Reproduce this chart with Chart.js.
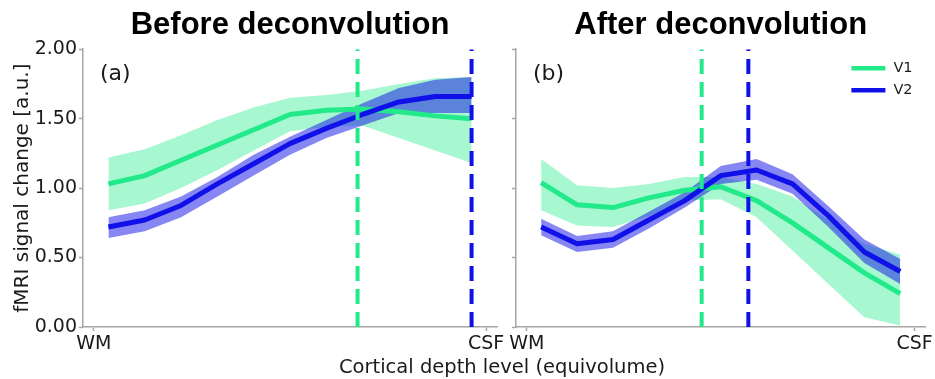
<!DOCTYPE html>
<html>
<head>
<meta charset="utf-8">
<script src="https://cdn.jsdelivr.net/npm/chart.js@4/dist/chart.umd.min.js"></script>
<style>
html,body{margin:0;padding:0;background:#fff;width:935px;height:379px;overflow:hidden;}
#wrap{position:relative;width:935px;height:379px;}
#ca{position:absolute;left:0;top:0;}
#cb{position:absolute;left:500px;top:0;}
#xlab{position:absolute;left:0;width:1004px;top:357px;text-align:center;font-family:'DejaVu Sans';font-size:19.5px;line-height:1;color:#1a1a1a;white-space:nowrap;}
</style>
</head>
<body>
<div id="wrap">
  <canvas id="ca" width="515" height="379"></canvas>
  <canvas id="cb" width="435" height="379"></canvas>
  <div id="xlab"></div>
</div>
<script>
// ---------- data ----------
const depthIndex   = [0, 1, 2, 3, 4, 5, 6, 7, 8, 9, 10];
const xTickValues  = [-0.4, 10.4];
const xTickLabels  = ['WM', 'CSF'];
const yTickValues  = [0, 0.5, 1.0, 1.5, 2.0];
const seriesNames  = ['V1', 'V2'];
const panelTitles  = ['Before deconvolution', 'After deconvolution'];
const panelTags    = ['(a)', '(b)'];
const yAxisTitle   = 'fMRI signal change [a.u.]';
const xAxisTitle   = 'Cortical depth level (equivolume)';

// (a) before deconvolution
const v1BeforeMean  = [1.03, 1.09, 1.20, 1.31, 1.42, 1.53, 1.56, 1.57, 1.55, 1.52, 1.50];
const v1BeforeUpper = [1.22, 1.28, 1.38, 1.49, 1.58, 1.65, 1.67, 1.70, 1.75, 1.79, 1.80];
const v1BeforeLower = [0.84, 0.89, 1.00, 1.13, 1.27, 1.41, 1.44, 1.45, 1.36, 1.27, 1.18];
const v2BeforeMean  = [0.72, 0.77, 0.875, 1.03, 1.175, 1.32, 1.43, 1.53, 1.62, 1.66, 1.66];
const v2BeforeUpper = [0.79, 0.84, 0.94, 1.08, 1.24, 1.37, 1.49, 1.61, 1.72, 1.78, 1.80];
const v2BeforeLower = [0.64, 0.69, 0.79, 0.94, 1.09, 1.24, 1.36, 1.45, 1.54, 1.54, 1.54];
const peakBefore    = [6.86, 10.0];   // V1, V2

// (b) after deconvolution
const v1AfterMean  = [1.04, 0.88, 0.86, 0.93, 0.985, 1.01, 0.91, 0.75, 0.57, 0.39, 0.24];
const v1AfterUpper = [1.21, 1.02, 1.00, 1.03, 1.08, 1.08, 1.03, 0.94, 0.77, 0.60, 0.52];
const v1AfterLower = [0.84, 0.73, 0.72, 0.80, 0.91, 0.92, 0.79, 0.55, 0.31, 0.07, 0.01];
const v2AfterMean  = [0.72, 0.60, 0.63, 0.77, 0.91, 1.09, 1.13, 1.03, 0.80, 0.54, 0.40];
const v2AfterUpper = [0.78, 0.655, 0.69, 0.83, 0.97, 1.16, 1.21, 1.10, 0.87, 0.63, 0.49];
const v2AfterLower = [0.66, 0.54, 0.57, 0.71, 0.86, 1.03, 1.06, 0.96, 0.72, 0.46, 0.31];
const peakAfter    = [4.47, 5.77];    // V1, V2

// ---------- styles ----------
const V1_COLOR = '#22ea8a';
const V1_FILL  = 'rgba(34,234,138,0.40)';
const V2_COLOR = '#1010e8';
const V2_FILL  = 'rgba(16,16,232,0.50)';
const AXIS_COLOR = '#a6a6a6';
const TEXT_COLOR = '#1a1a1a';

document.getElementById('xlab').textContent = xAxisTitle;

function pts(arr) { return arr.map((y, i) => ({x: depthIndex[i], y: y})); }
function vline(x) { return [{x: x, y: yTickValues[0]}, {x: x, y: yTickValues[yTickValues.length - 1]}]; }

function buildDatasets(v1m, v1u, v1l, v2m, v2u, v2l, peaks) {
  const band = {borderWidth: 0, borderColor: 'rgba(0,0,0,0)', pointRadius: 0, tension: 0};
  return [
    Object.assign({label: seriesNames[0] + ' upper', data: pts(v1u), fill: '+1', backgroundColor: V1_FILL, order: 4}, band),
    Object.assign({label: seriesNames[0] + ' lower', data: pts(v1l), fill: false, order: 4}, band),
    Object.assign({label: seriesNames[1] + ' upper', data: pts(v2u), fill: '+1', backgroundColor: V2_FILL, order: 3}, band),
    Object.assign({label: seriesNames[1] + ' lower', data: pts(v2l), fill: false, order: 3}, band),
    {label: seriesNames[0], isMean: true, data: pts(v1m), borderColor: V1_COLOR, backgroundColor: V1_COLOR,
     borderWidth: 5, pointRadius: 0, fill: false, tension: 0, borderJoinStyle: 'round', order: 2},
    {label: seriesNames[1], isMean: true, data: pts(v2m), borderColor: V2_COLOR, backgroundColor: V2_COLOR,
     borderWidth: 5, pointRadius: 0, fill: false, tension: 0, borderJoinStyle: 'round', order: 1},
    {label: seriesNames[0] + ' peak', data: vline(peaks[0]), borderColor: V1_COLOR, borderWidth: 4,
     borderDash: [15, 8], pointRadius: 0, fill: false, order: 0},
    {label: seriesNames[1] + ' peak', data: vline(peaks[1]), borderColor: V2_COLOR, borderWidth: 4,
     borderDash: [15, 8], pointRadius: 0, fill: false, order: 0}
  ];
}

const decor = {
  id: 'decor',
  afterDraw(chart, args, opts) {
    const ctx = chart.ctx, ca = chart.chartArea;
    ctx.save();
    ctx.fillStyle = TEXT_COLOR;
    ctx.textBaseline = 'middle';
    ctx.textAlign = 'left';
    ctx.font = '22px "DejaVu Sans"';
    ctx.fillText(opts.tag, ca.left + 17, ca.top + 25);
    if (opts.legend) {
      const items = chart.data.datasets.filter(d => d.isMean);
      items.forEach((d, i) => {
        const y = ca.top + 19 + i * 22;
        ctx.strokeStyle = d.borderColor;
        ctx.lineWidth = 4.5;
        ctx.beginPath();
        ctx.moveTo(ca.right - 74, y);
        ctx.lineTo(ca.right - 40, y);
        ctx.stroke();
        ctx.font = '14.5px "DejaVu Sans"';
        ctx.fillText(d.label, ca.right - 32, y);
      });
    }
    ctx.restore();
  }
};

function makeOptions(showYLabels, yWidth, padRight, tag, legend, title) {
  const gridOpts = {display: true, drawOnChartArea: false, drawTicks: true, tickLength: 4,
                    tickColor: AXIS_COLOR, tickWidth: 1.5, color: AXIS_COLOR};
  const borderOpts = {display: true, color: AXIS_COLOR, width: 1.5};
  return {
    responsive: false,
    animation: false,
    devicePixelRatio: 1,
    layout: {padding: {left: 0, right: padRight, top: 0, bottom: 0}},
    plugins: {
      legend: {display: false},
      tooltip: {enabled: false},
      title: {display: true, text: title, fullSize: false, color: '#000',
              font: {family: '"Liberation Sans", Arial, sans-serif', size: 31, weight: 'bold'},
              padding: {top: 7, bottom: 5}},
      decor: {tag: tag, legend: legend}
    },
    scales: {
      x: {
        type: 'linear', min: -0.7, max: 10.7,
        afterBuildTicks: s => { s.ticks = xTickValues.map(v => ({value: v})); },
        afterFit: s => { s.height = 52; },
        ticks: {autoSkip: false, maxRotation: 0, padding: 2, color: TEXT_COLOR,
                font: {family: '"DejaVu Sans"', size: 19},
                callback: (v, i) => xTickLabels[i]},
        grid: gridOpts,
        border: borderOpts
      },
      y: {
        type: 'linear', min: yTickValues[0], max: yTickValues[yTickValues.length - 1],
        afterBuildTicks: s => { s.ticks = yTickValues.map(v => ({value: v})); },
        afterFit: s => { s.width = yWidth; },
        ticks: {padding: 2, color: TEXT_COLOR, font: {family: '"DejaVu Sans"', size: 19},
                callback: v => showYLabels ? Number(v).toFixed(2) : ''},
        grid: gridOpts,
        border: borderOpts,
        title: {display: showYLabels, text: yAxisTitle, color: TEXT_COLOR,
                font: {family: '"DejaVu Sans"', size: 20}, padding: {top: 11, bottom: 0}}
      }
    }
  };
}

new Chart(document.getElementById('ca'), {
  type: 'line',
  data: {datasets: buildDatasets(v1BeforeMean, v1BeforeUpper, v1BeforeLower,
                                 v2BeforeMean, v2BeforeUpper, v2BeforeLower, peakBefore)},
  options: makeOptions(true, 83, 18, panelTags[0], false, panelTitles[0]),
  plugins: [decor]
});

new Chart(document.getElementById('cb'), {
  type: 'line',
  data: {datasets: buildDatasets(v1AfterMean, v1AfterUpper, v1AfterLower,
                                 v2AfterMean, v2AfterUpper, v2AfterLower, peakAfter)},
  options: makeOptions(false, 16, 8, panelTags[1], true, panelTitles[1]),
  plugins: [decor]
});
</script>
</body>
</html>
